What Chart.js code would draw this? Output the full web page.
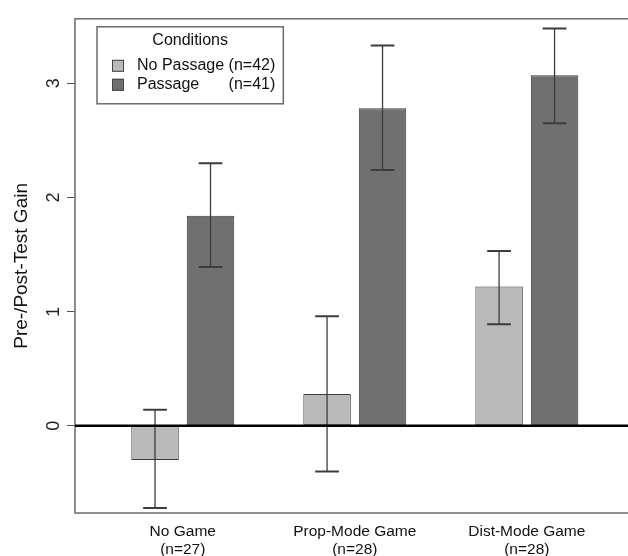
<!DOCTYPE html>
<html>
<head>
<meta charset="utf-8">
<script src="https://cdn.jsdelivr.net/npm/chart.js@4.4.1/dist/chart.umd.min.js"></script>
<style>
  html, body { margin: 0; padding: 0; background: #fff; overflow: hidden; }
  #wrap { width: 628px; height: 556px; overflow: hidden; }
</style>
</head>
<body>
<div id="wrap"><canvas id="gainChart" width="650" height="556"></canvas></div>
<script>
const categories = ['No Game', 'Prop-Mode Game', 'Dist-Mode Game'];
const groupSizes = ['(n=27)', '(n=28)', '(n=28)'];
const seriesNames = ['No Passage', 'Passage'];
const seriesSizes = ['(n=42)', '(n=41)'];
const noPassageGain = [-0.30, 0.28, 1.22];
const noPassageLow = [-0.72, -0.40, 0.89];
const noPassageHigh = [0.14, 0.96, 1.53];
const passageGain = [1.84, 2.78, 3.07];
const passageLow = [1.39, 2.24, 2.65];
const passageHigh = [2.30, 3.33, 3.48];
const yTicks = [0, 1, 2, 3];
const yMin = -0.763, yMax = 3.564;
const xMin = 0.3735, xMax = 3.687;

const FONT = "'Liberation Sans', Arial, Helvetica, sans-serif";
Chart.defaults.font.family = FONT;
Chart.defaults.color = '#111';

const toPoints = vals => vals.map((v, i) => ({ x: i + 1, y: v }));

// box around the plot region (right side runs off the page like the original)
const plotBox = {
    id: 'plotBox',
    beforeDatasetsDraw(chart) {
        const { ctx, chartArea: a } = chart;
        ctx.save();
        ctx.strokeStyle = '#6a6a6a';
        ctx.lineWidth = 1.5;
        ctx.strokeRect(a.left, a.top, a.right - a.left, a.bottom - a.top);
        ctx.restore();
    }
};

// zero line + error bars on top of the bars
const errorBars = {
    id: 'errorBars',
    afterDatasetsDraw(chart) {
        const { ctx, chartArea: a } = chart;
        const y = chart.scales.y;
        ctx.save();
        chart.data.datasets.forEach((ds, di) => {
            chart.getDatasetMeta(di).data.forEach((bar, i) => {
                const top = y.getPixelForValue(ds.errHigh[i]);
                const bot = y.getPixelForValue(ds.errLow[i]);
                const half = bar.width / 4;
                ctx.strokeStyle = '#3c3c3c';
                ctx.lineWidth = 1.3;
                ctx.beginPath();
                ctx.moveTo(bar.x, top);
                ctx.lineTo(bar.x, bot);
                ctx.stroke();
                ctx.lineWidth = 2;
                ctx.beginPath();
                ctx.moveTo(bar.x - half, top);
                ctx.lineTo(bar.x + half, top);
                ctx.moveTo(bar.x - half, bot);
                ctx.lineTo(bar.x + half, bot);
                ctx.stroke();
            });
        });
        const zy = y.getPixelForValue(0);
        ctx.strokeStyle = '#000';
        ctx.lineWidth = 2.5;
        ctx.beginPath();
        ctx.moveTo(a.left, zy);
        ctx.lineTo(a.right, zy);
        ctx.stroke();
        ctx.restore();
    }
};

// R-style boxed legend with title
const legendBox = {
    id: 'legendBox',
    afterDraw(chart) {
        const { ctx, chartArea: a } = chart;
        ctx.save();
        ctx.font = '16px ' + FONT;
        const nameW = Math.max(...seriesNames.map(s => ctx.measureText(s).width));
        const sizeW = Math.max(...seriesSizes.map(s => ctx.measureText(s).width));
        const textW = nameW + ctx.measureText(' ').width + sizeW;
        const x0 = a.left + 22, y0 = a.top + 8;
        const padL = 15, sq = 12, gap = 13, padR = 8;
        const w = padL + sq + gap + textW + padR, h = 77;

        ctx.fillStyle = '#fff';
        ctx.fillRect(x0, y0, w, h);
        ctx.strokeStyle = '#6a6a6a';
        ctx.lineWidth = 1.5;
        ctx.strokeRect(x0, y0, w, h);

        ctx.fillStyle = '#111';
        ctx.textBaseline = 'middle';
        ctx.textAlign = 'center';
        ctx.fillText('Conditions', x0 + w / 2, y0 + 14);

        const rows = [y0 + 39, y0 + 58];
        chart.data.datasets.forEach((ds, i) => {
            const ry = rows[i];
            ctx.fillStyle = ds.backgroundColor;
            ctx.fillRect(x0 + padL, ry - sq / 2, sq, sq);
            ctx.strokeStyle = '#444';
            ctx.lineWidth = 1;
            ctx.strokeRect(x0 + padL + 0.5, ry - sq / 2 + 0.5, sq - 1, sq - 1);
            ctx.fillStyle = '#111';
            ctx.textAlign = 'left';
            ctx.fillText(seriesNames[i], x0 + padL + sq + gap, ry);
            ctx.textAlign = 'right';
            ctx.fillText(seriesSizes[i], x0 + padL + sq + gap + textW, ry);
        });
        ctx.restore();
    }
};

new Chart(document.getElementById('gainChart'), {
    type: 'bar',
    data: {
        datasets: [
            {
                label: seriesNames[0],
                data: toPoints(noPassageGain),
                errLow: noPassageLow,
                errHigh: noPassageHigh,
                backgroundColor: '#bababa',
                borderColor: '#3a3a3a',
                borderWidth: 1,
                borderSkipped: false
            },
            {
                label: seriesNames[1],
                data: toPoints(passageGain),
                errLow: passageLow,
                errHigh: passageHigh,
                backgroundColor: '#707070',
                borderColor: '#3a3a3a',
                borderWidth: 1,
                borderSkipped: false
            }
        ]
    },
    options: {
        responsive: false,
        animation: false,
        categoryPercentage: 0.645,
        barPercentage: 0.856,
        layout: { padding: { top: 14, left: 0, right: 5, bottom: 0 } },
        plugins: {
            legend: { display: false },
            tooltip: { enabled: false }
        },
        scales: {
            x: {
                type: 'linear',
                min: xMin,
                max: xMax,
                offset: false,
                afterBuildTicks: s => { s.ticks = categories.map((c, i) => ({ value: i + 1 })); },
                afterFit: s => { s.height = 43; },
                grid: { display: false, drawTicks: false },
                border: { display: false },
                ticks: {
                    autoSkip: false,
                    maxRotation: 0,
                    padding: 10,
                    color: '#111',
                    font: { size: 15.5, lineHeight: 1.16 },
                    callback: v => [categories[v - 1], groupSizes[v - 1]]
                }
            },
            y: {
                min: yMin,
                max: yMax,
                afterBuildTicks: s => { s.ticks = yTicks.map(v => ({ value: v })); },
                afterFit: s => { s.width = 75; },
                grid: { drawOnChartArea: false, tickLength: 8, tickColor: '#555', tickWidth: 1 },
                border: { display: false },
                ticks: {
                    minRotation: 90,
                    maxRotation: 90,
                    crossAlign: 'center',
                    padding: 8,
                    color: '#222',
                    font: { size: 18 }
                },
                title: {
                    display: true,
                    text: 'Pre-/Post-Test Gain',
                    color: '#111',
                    font: { size: 19 },
                    padding: { top: 10, bottom: 0 }
                }
            }
        }
    },
    plugins: [plotBox, errorBars, legendBox]
});
</script>
</body>
</html>
